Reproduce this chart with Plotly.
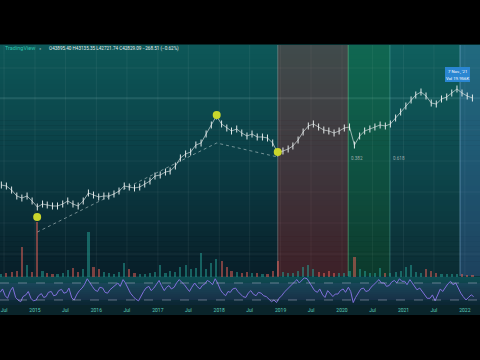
import plotly.graph_objects as go
import pandas as pd

# ---------------- data ----------------
# monthly closes (mid-month)
price = [
    747, 712, 587, 441, 400, 441, 347,
    260, 300, 286, 273, 273, 300, 347, 300, 273, 347, 509, 462,
    420, 441, 441, 485, 560, 712, 679, 647, 679, 784, 905, 1150,
    1207, 1394, 1463, 1858, 2730, 3310, 3640, 5090, 5600, 8630, 13280, 20450,
    13950, 11500, 9960, 10960, 9050, 7840, 8630, 7470, 7470, 7120, 5600, 3470,
    3820, 4200, 4850, 6470, 9500, 12660, 13950, 12070, 10450, 9960, 9050, 9960,
    11500, 12070, 5090, 7840, 9960, 10960, 12070, 13280, 12660, 13950, 18590, 24770,
    33040, 44060, 56000, 64700, 53430, 38160, 36390, 46240, 50900, 61660, 74740, 61660,
    53430, 48500,
]
# monthly volume (thousands)
volume = [
    3, 4, 5, 6, 30, 12, 5,
    55, 6, 4, 3, 3, 4, 7, 9, 5, 8, 45, 10,
    8, 5, 4, 3, 5, 14, 8, 4, 3, 3, 4, 5,
    12, 4, 6, 5, 10, 12, 8, 9, 24, 8, 14, 18,
    16, 10, 6, 5, 4, 5, 4, 4, 3, 3, 6, 16,
    5, 4, 4, 6, 10, 12, 8, 5, 4, 6, 4, 4,
    4, 6, 20, 8, 6, 4, 4, 9, 4, 4, 5, 6,
    10, 12, 5, 4, 8, 6, 4, 3, 3, 3, 3, 3,
    2, 2,
]
# semi-monthly oscillator (RSI)
oscillator = [
    48, 56, 40, 34, 52, 60, 36, 30, 26, 38, 42, 50, 34, 28,
    30, 40, 45, 36, 38, 48, 50, 40, 42, 52, 55, 46, 48, 58, 35, 30, 44, 52, 58, 66, 80, 70, 62, 54,
    50, 60, 58, 48, 46, 54, 60, 66, 70, 62, 78, 70, 55, 46, 38, 32, 28, 40, 50, 58, 62, 52, 58, 66,
    76, 64, 52, 60, 64, 56, 60, 70, 78, 72, 66, 58, 50, 60, 70, 62, 56, 64, 68, 76, 72, 66, 80, 70,
    54, 46, 40, 50, 48, 56, 58, 50, 44, 38, 36, 46, 52, 44, 40, 48, 46, 40, 38, 32, 26, 30, 24, 34,
    40, 48, 55, 62, 66, 72, 78, 70, 76, 82, 80, 70, 60, 52, 48, 56, 42, 36, 52, 46, 38, 44, 44, 52,
    56, 48, 60, 50, 24, 36, 48, 56, 58, 50, 52, 60, 66, 72, 78, 70, 70, 62, 64, 72, 76, 70, 80, 74,
    74, 66, 78, 70, 62, 54, 58, 50, 40, 34, 34, 42, 28, 40, 56, 50, 60, 68, 74, 66, 70, 58, 46, 38,
    30, 36, 42, 38,
]
months = pd.date_range("2014-06-01", periods=len(price), freq="MS") + pd.Timedelta(days=14)
half_months = pd.date_range("2014-06-01", periods=len(oscillator), freq="SMS") + pd.Timedelta(days=7)

pivot_dates = ["2015-01-14", "2017-12-17", "2018-12-15"]
pivot_values = [161, 21470, 3640]
zigzag_dates = ["2015-01-14", "2017-12-17", "2018-12-15"]
zigzag_values = [78, 5600, 2860]

tick_dates = ["2014-07-01", "2015-01-01", "2015-07-01", "2016-01-01", "2016-07-01",
              "2017-01-01", "2017-07-01", "2018-01-01", "2018-07-01", "2019-01-01",
              "2019-07-01", "2020-01-01", "2020-07-01", "2021-01-01", "2021-07-01",
              "2022-01-01"]
tick_text = ["Jul", "2015", "Jul", "2016", "Jul", "2017", "Jul", "2018", "Jul",
             "2019", "Jul", "2020", "Jul", "2021", "Jul", "2022"]

zone_start = ["2018-12-15", "2020-02-07", "2020-10-12", "2021-12-03"]
zone_end = ["2020-02-07", "2020-10-12", "2021-12-03", "2022-04-01"]
zone_fill = ["rgba(220,40,40,0.25)", "rgba(30,170,60,0.20)",
             "rgba(40,170,150,0.10)", "rgba(80,150,220,0.30)"]
zone_edge = ["rgba(200,200,200,0.35)", "rgba(120,220,150,0.45)",
             "rgba(120,210,200,0.35)", "rgba(150,200,240,0.45)"]

fib_labels = ["0.382", "0.618"]
fib_dates = ["2020-02-10", "2020-10-16"]

header_ohlc = "O43895.40 H43135.35 L42721.74 C42829.09 −268.51 (−0.62%)"
tooltip_lines = ["7 Nov., '21", "Vol 19.956K"]

# ---------------- layout helpers ----------------
W, H = 480, 360
TOP, BOT = 45, 305


def ppy(p):
    return (BOT - p) / (BOT - TOP)


def ppx(p):
    return p / W


X_RANGE = ["2014-06-07", "2022-04-01"]

fig = go.Figure()

# volume
vol_colors = ["rgba(38,166,154,0.5)"]
for i in range(1, len(price)):
    vol_colors.append("rgba(38,166,154,0.5)" if price[i] >= price[i - 1]
                      else "rgba(239,100,90,0.5)")
fig.add_trace(go.Bar(x=months, y=volume, marker=dict(color=vol_colors, line=dict(width=0)),
                     width=13 * 86400000, xaxis="x", yaxis="y2", hoverinfo="skip"))
# price (candle-like ticks)
fig.add_trace(go.Scatter(x=months, y=price, mode="lines+markers",
                         line=dict(color="rgba(220,228,228,0.75)", width=0.9),
                         marker=dict(symbol="line-ns", size=5,
                                     line=dict(color="rgba(235,240,240,0.95)", width=1)),
                         xaxis="x", yaxis="y", hoverinfo="skip"))
# zigzag
fig.add_trace(go.Scatter(x=zigzag_dates, y=zigzag_values, mode="lines",
                         line=dict(color="rgba(200,215,215,0.55)", width=1, dash="dot"),
                         xaxis="x", yaxis="y", hoverinfo="skip"))
# pivots
fig.add_trace(go.Scatter(x=pivot_dates, y=pivot_values, mode="markers",
                         marker=dict(color="#c9d62c", size=8, line=dict(width=0)),
                         xaxis="x", yaxis="y", hoverinfo="skip"))
# oscillator
fig.add_trace(go.Scatter(x=half_months, y=oscillator, mode="lines",
                         line=dict(color="#8270dc", width=1),
                         xaxis="x", yaxis="y3", hoverinfo="skip"))

shapes = []


def lerp(c1, c2, t):
    return tuple(round(a + (b - a) * t) for a, b in zip(c1, c2))


# main gradient background
stops = [(45, (13, 88, 88)), (160, (11, 62, 70)), (277, (8, 30, 40))]
N = 46
for k in range(N):
    p0 = 45 + (277 - 45) * k / N
    p1 = 45 + (277 - 45) * (k + 1) / N
    pm = (p0 + p1) / 2
    for j in range(len(stops) - 1):
        if stops[j][0] <= pm <= stops[j + 1][0]:
            t = (pm - stops[j][0]) / (stops[j + 1][0] - stops[j][0])
            c = lerp(stops[j][1], stops[j + 1][1], t)
    shapes.append(dict(type="rect", xref="paper", yref="paper", x0=0, x1=1,
                       y0=ppy(p1), y1=ppy(p0) + 0.002, fillcolor="rgb(%d,%d,%d)" % c,
                       line=dict(width=0), layer="below"))
# oscillator panel background
for k in range(14):
    p0 = 277 + 28 * k / 14
    p1 = 277 + 28 * (k + 1) / 14
    c = lerp((14, 78, 84), (12, 38, 52), (k + 0.5) / 14)
    shapes.append(dict(type="rect", xref="paper", yref="paper", x0=0, x1=1,
                       y0=ppy(p1), y1=ppy(p0) + 0.002, fillcolor="rgb(%d,%d,%d)" % c,
                       line=dict(width=0), layer="below"))
# RSI band
shapes.append(dict(type="rect", xref="paper", yref="y3", x0=0, x1=1, y0=30, y1=70,
                   fillcolor="rgba(126,87,194,0.10)", line=dict(width=0), layer="below"))
# label band
shapes.append(dict(type="rect", xref="paper", yref="paper", x0=0, x1=1,
                   y0=ppy(315), y1=ppy(305), fillcolor="rgb(10,36,42)",
                   line=dict(width=0), layer="below"))
# horizontal grid
for gy in [68, 99, 130, 161, 192, 223, 254]:
    shapes.append(dict(type="line", xref="paper", yref="paper", x0=0, x1=1,
                       y0=ppy(gy), y1=ppy(gy),
                       line=dict(color="rgba(255,255,255,0.06)", width=1), layer="below"))
shapes.append(dict(type="line", xref="paper", yref="paper", x0=0, x1=1,
                   y0=ppy(98), y1=ppy(98),
                   line=dict(color="rgba(160,220,220,0.22)", width=1), layer="below"))
# vertical grid
for d in tick_dates:
    shapes.append(dict(type="line", xref="x", yref="paper", x0=d, x1=d,
                       y0=ppy(277), y1=1,
                       line=dict(color="rgba(255,255,255,0.06)", width=1), layer="below"))
# zones
for s, e, f, ed in zip(zone_start, zone_end, zone_fill, zone_edge):
    shapes.append(dict(type="rect", xref="x", yref="paper", x0=s, x1=e,
                       y0=ppy(276), y1=1, fillcolor=f, line=dict(width=0), layer="below"))
    shapes.append(dict(type="line", xref="x", yref="paper", x0=s, x1=s,
                       y0=ppy(276), y1=1, line=dict(color=ed, width=1), layer="below"))
# oscillator dashed levels
for lv in [30, 70]:
    shapes.append(dict(type="line", xref="paper", yref="y3", x0=0, x1=1, y0=lv, y1=lv,
                       line=dict(color="rgba(200,200,220,0.45)", width=1, dash="dash")))
# tooltip box
shapes.append(dict(type="rect", xref="paper", yref="paper", x0=ppx(445), x1=ppx(470),
                   y0=ppy(82), y1=ppy(67), fillcolor="#2a86d2", line=dict(width=0)))

annotations = [
    dict(text="TradingView", xref="paper", yref="paper", x=ppx(3), y=ppy(48.5),
         xanchor="left", yanchor="middle", showarrow=False,
         font=dict(family="Roboto", size=5.5, color="#2fc4ac")),
    dict(text="●", xref="paper", yref="paper", x=ppx(40), y=ppy(48.5),
         xanchor="center", yanchor="middle", showarrow=False,
         font=dict(family="Roboto", size=4, color="rgba(140,180,180,0.8)")),
    dict(text=header_ohlc, xref="paper", yref="paper", x=ppx(47), y=ppy(48.5),
         xanchor="left", yanchor="middle", showarrow=False,
         font=dict(family="Roboto", size=4.6, color="#e8eeee")),
    dict(text=tooltip_lines[0], xref="paper", yref="paper", x=ppx(457.5), y=ppy(71),
         xanchor="center", yanchor="middle", showarrow=False,
         font=dict(family="Roboto", size=4.3, color="white")),
    dict(text=tooltip_lines[1], xref="paper", yref="paper", x=ppx(457.5), y=ppy(78),
         xanchor="center", yanchor="middle", showarrow=False,
         font=dict(family="Roboto", size=4.3, color="white")),
]
for lab, d in zip(fib_labels, fib_dates):
    annotations.append(dict(text=lab, xref="x", yref="paper", x=d, y=ppy(158),
                            xanchor="left", yanchor="middle", showarrow=False,
                            font=dict(family="Roboto", size=4.6,
                                      color="rgba(200,205,205,0.75)")))

hidden = dict(visible=False, showgrid=False, zeroline=False, fixedrange=True)
fig.update_layout(
    width=W, height=H,
    margin=dict(l=0, r=0, t=TOP, b=H - BOT, pad=0),
    paper_bgcolor="black", plot_bgcolor="rgba(0,0,0,0)",
    showlegend=False, bargap=0,
    xaxis=dict(type="date", range=X_RANGE, domain=[0, 1], anchor="y3",
               tickmode="array", tickvals=tick_dates, ticktext=tick_text,
               showgrid=False, zeroline=False, showline=False, ticks="",
               ticklabelstandoff=1,
               tickfont=dict(family="Roboto", size=5, color="#5ccbb9")),
    yaxis=dict(type="log", range=[0.957, 5.79], domain=[ppy(277), 1], **hidden),
    yaxis2=dict(range=[0, 63], domain=[ppy(277), ppy(214)], **hidden),
    yaxis3=dict(range=[18.2, 84.1], domain=[0, ppy(277)], **hidden),
    shapes=shapes, annotations=annotations,
)

fig.write_html("out.html")
